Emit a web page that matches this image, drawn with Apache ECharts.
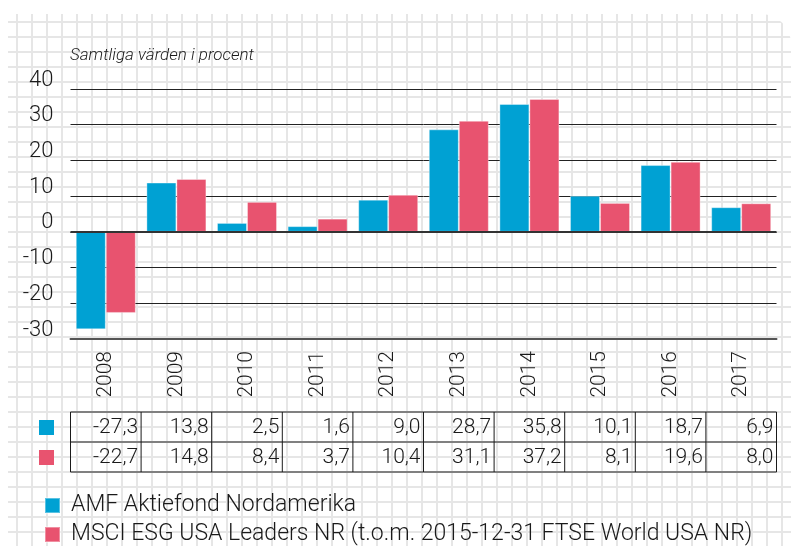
<!DOCTYPE html>
<html>
<head>
<meta charset="utf-8">
<script src="https://cdn.jsdelivr.net/npm/echarts@6/dist/echarts.min.js"></script>
<style>
  html, body { margin: 0; padding: 0; background: #fff; }
  #paper {
    position: absolute; left: 8px; top: 14px; width: 783px; height: 532px;
    border-top-right-radius: 30px;
    background-image:
      linear-gradient(to right, #e6e6e6 2px, transparent 2px),
      linear-gradient(to bottom, #e6e6e6 2px, transparent 2px);
    background-size: 15px 15px;
    background-position: 8px 7px;
  }
  #chart { position: absolute; left: 0; top: 0; width: 791px; height: 546px; }
</style>
</head>
<body>
<div id="paper"></div>
<div id="chart"></div>
<script>
const years = ['2008', '2009', '2010', '2011', '2012', '2013', '2014', '2015', '2016', '2017'];
const amf = [-27.3, 13.8, 2.5, 1.6, 9.0, 28.7, 35.8, 10.1, 18.7, 6.9];
const msci = [-22.7, 14.8, 8.4, 3.7, 10.4, 31.1, 37.2, 8.1, 19.6, 8.0];
const names = ['AMF Aktiefond Nordamerika', 'MSCI ESG USA Leaders NR (t.o.m. 2015-12-31 FTSE World USA NR)'];
const subtitle = 'Samtliga värden i procent';

const colors = ['#00a1d3', '#e8536f'];
const font = 'Roboto, "Liberation Sans", sans-serif';
const weight = 300;
const ink = '#1a1a1a';

const chart = echarts.init(document.getElementById('chart'));

// one legend per row so they stack like the original
const legendRow = (name, top) => ({
  data: [name],
  left: 39, top: top,
  itemWidth: 15, itemHeight: 15,
  icon: 'rect',
  selectedMode: false,
  textStyle: { fontSize: 23, fontWeight: weight, color: ink, padding: [0, 0, 0, 6] }
});

const option = {
  animation: false,
  color: colors,
  textStyle: { fontFamily: font },
  title: {
    text: subtitle,
    left: 65, top: 42,
    textStyle: { fontSize: 17, fontStyle: 'italic', fontWeight: weight, color: ink, fontFamily: font }
  },
  legend: [legendRow(names[0], 489), legendRow(names[1], 518)],
  grid: { left: 70.5, right: 14.5, top: 89, bottom: 207, containLabel: false },
  xAxis: {
    type: 'category',
    data: years,
    axisLine: { onZero: false, lineStyle: { color: '#555', width: 2 } },
    axisTick: { show: false },
    axisLabel: { rotate: 90, fontSize: 21, fontWeight: weight, color: ink, margin: 12 }
  },
  yAxis: {
    type: 'value',
    min: -30, max: 40, interval: 10,
    axisLine: { show: false },
    axisTick: { show: false },
    axisLabel: { fontSize: 22, fontWeight: weight, color: ink, margin: 17, verticalAlign: 'bottom', lineHeight: 18 },
    splitLine: { lineStyle: { color: '#222', width: 1 } }
  },
  series: [
    {
      name: names[0], type: 'bar', data: amf,
      barGap: '0%', barCategoryGap: '15%',
      itemStyle: { borderColor: 'rgba(255,255,255,0.35)', borderWidth: 1 },
      markLine: {
        silent: true, symbol: 'none', label: { show: false },
        lineStyle: { color: '#333', width: 2, type: 'solid' },
        data: [{ yAxis: 0 }]
      }
    },
    {
      name: names[1], type: 'bar', data: msci,
      barGap: '0%', barCategoryGap: '15%',
      itemStyle: { borderColor: 'rgba(255,255,255,0.35)', borderWidth: 1 }
    }
  ]
};
chart.setOption(option);

// value table under the x axis, columns follow the category bands
const fmt = v => v.toFixed(1).replace('.', ',');
const centers = years.map(y => chart.convertToPixel({ xAxisIndex: 0 }, y));
const band = centers[1] - centers[0];
const tLeft = centers[0] - band / 2;
const tRight = centers[centers.length - 1] + band / 2;
const rowTop = 412, rowH = 30;
const rows = [amf, msci];
const g = [];
g.push({ type: 'rect', shape: { x: tLeft, y: rowTop, width: tRight - tLeft, height: rowH * 2 },
  style: { fill: 'none', stroke: ink, lineWidth: 1 } });
g.push({ type: 'line', shape: { x1: tLeft, y1: rowTop + rowH, x2: tRight, y2: rowTop + rowH },
  style: { stroke: ink, lineWidth: 1 } });
for (let i = 1; i < years.length; i++) {
  const x = tLeft + band * i;
  g.push({ type: 'line', shape: { x1: x, y1: rowTop, x2: x, y2: rowTop + rowH * 2 },
    style: { stroke: ink, lineWidth: 1 } });
}
rows.forEach((vals, r) => {
  g.push({ type: 'rect', shape: { x: 39, y: rowTop + r * rowH + 8, width: 15, height: 15 },
    style: { fill: colors[r] } });
  vals.forEach((v, i) => {
    g.push({ type: 'text', x: tLeft + band * (i + 1) - 3, y: rowTop + r * rowH + rowH / 2 + 1,
      style: { text: fmt(v), fill: ink, font: weight + ' 21px ' + font, align: 'right', verticalAlign: 'middle' } });
  });
});
chart.setOption({ graphic: g });
</script>
</body>
</html>
